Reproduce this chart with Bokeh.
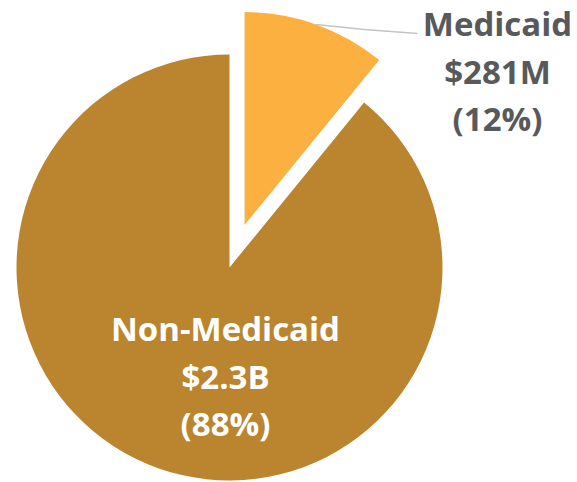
import math
from bokeh.plotting import figure
from bokeh.models import Range1d
from bokeh.core.properties import value
from bokeh.embed import file_html
from bokeh.resources import INLINE

# ---- data ----
categories = ["Medicaid", "Non-Medicaid"]
amounts_musd = [281, 2300]
amount_labels = ["$281M", "$2.3B"]
percent_labels = ["(12%)", "(88%)"]
colors = ["#FBB040", "#BA852E"]
label_colors = ["#58595B", "#FFFFFF"]

# ---- layout (screen-pixel data coordinates, y up = -screen y) ----
W, H = 577, 482
cx, cy = 229, -267
R = 213
explode = 45
FONT = "Open Sans"
FS = "33px"

p = figure(width=W, height=H, output_backend="svg", toolbar_location=None,
           x_range=Range1d(0, W), y_range=Range1d(-H, 0),
           min_border=0, outline_line_color=None)
p.axis.visible = False
p.grid.visible = False
p.background_fill_color = "white"
p.border_fill_color = "white"

total = sum(amounts_musd)
start = math.pi / 2
for i, (cat, v) in enumerate(zip(categories, amounts_musd)):
    sweep = 2 * math.pi * v / total
    end = start
    st = start - sweep
    mid = (st + end) / 2
    ox, oy = cx, cy
    if cat == "Medicaid":
        ox = cx + explode * math.cos(mid)
        oy = cy + explode * math.sin(mid)
        # leader line
        sx = ox + R * math.cos(mid)
        sy = oy + R * math.sin(mid)
        p.line([sx, 364, 417], [sy, -29, -33], line_color="#C4C4C4", line_width=1.5)
    p.wedge(x=[ox], y=[oy], radius=R, start_angle=[st], end_angle=[end],
            fill_color=colors[i], line_color=None)
    start = st

# labels
positions = {"Medicaid": (497, [-23, -71, -118]),
             "Non-Medicaid": (225, [-328, -376, -423])}
for i, cat in enumerate(categories):
    x, ys = positions[cat]
    lines = [cat, amount_labels[i], percent_labels[i]]
    p.text(x=[x] * 3, y=ys, text=lines, text_font=value(FONT),
           text_font_size=FS, text_font_style="bold",
           text_color=label_colors[i], text_align="center",
           text_baseline="alphabetic")

open("out.html", "w").write(file_html(p, INLINE))
